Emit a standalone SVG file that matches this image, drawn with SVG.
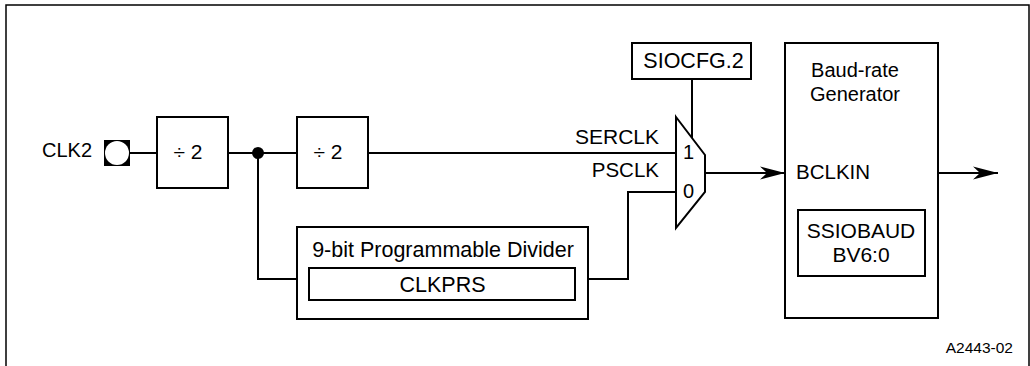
<svg xmlns="http://www.w3.org/2000/svg" width="1030" height="366" viewBox="0 0 1030 366">
<style>
.box{fill:#fff;stroke:#000;stroke-width:2}
.w{fill:none;stroke:#000;stroke-width:2}
text{font-family:"Liberation Sans",Arial,sans-serif;font-size:20px;fill:#000}
.big{font-size:21.5px}
.c{text-anchor:middle}
.r{text-anchor:end}
</style>
<defs>
<marker id="arr" markerUnits="userSpaceOnUse" markerWidth="28" markerHeight="16" refX="27" refY="8" orient="auto">
<path d="M27,8 L2,1.5 L9,8 L2,14.5 Z" fill="#000"/>
</marker>
</defs>
<rect x="6" y="5" width="1023" height="380" fill="#fff" stroke="#000" stroke-width="1.5"/>
<g id="connectors">
<line class="w" x1="130" y1="153" x2="157" y2="153"/>
<line class="w" x1="228" y1="153" x2="297" y2="153"/>
<circle cx="258" cy="153" r="6" fill="#000"/>
<polyline class="w" points="258,153 258,279 297,279"/>
<line class="w" x1="368" y1="153" x2="676" y2="153"/>
<polyline class="w" points="588,279 628,279 628,192 676,192"/>
<line class="w" x1="692" y1="79" x2="692" y2="138"/>
<line class="w" x1="705" y1="173" x2="785" y2="173" marker-end="url(#arr)"/>
<line class="w" x1="938" y1="173" x2="998" y2="173" marker-end="url(#arr)"/>
</g>
<g id="clk2">
<text x="92" y="157" class="r">CLK2</text>
<rect x="104" y="140" width="26" height="26" fill="#000"/>
<circle cx="117" cy="153" r="12" fill="#fff"/>
</g>
<g id="div1">
<rect class="box" x="157" y="117" width="71" height="71"/>
<text x="188" y="159" class="c" style="font-size:21px">÷ 2</text>
</g>
<g id="div2">
<rect class="box" x="297" y="117" width="71" height="71"/>
<text x="328" y="159" class="c" style="font-size:21px">÷ 2</text>
</g>
<g id="prog-divider">
<rect class="box" x="297" y="227" width="291" height="92"/>
<text x="443" y="257" class="c big">9-bit Programmable Divider</text>
<rect class="box" x="309" y="268" width="266" height="32"/>
<text x="442.5" y="292" class="c big">CLKPRS</text>
</g>
<g id="labels">
<text x="659" y="144" class="r" style="font-size:21px">SERCLK</text>
<text x="659" y="177" class="r" style="font-size:20.5px">PSCLK</text>
</g>
<g id="siocfg">
<rect class="box" x="632" y="43" width="119" height="36"/>
<text x="693.5" y="68" class="c big">SIOCFG.2</text>
</g>
<g id="mux">
<polygon class="box" points="676,117 705,155 705,192 676,228"/>
<text x="683" y="159">1</text>
<text x="683" y="198">0</text>
</g>
<g id="baud">
<rect class="box" x="785" y="43" width="153" height="275"/>
<text x="855" y="77" class="c">Baud-rate</text>
<text x="855" y="101" class="c">Generator</text>
<text x="796" y="179" style="font-size:20.5px">BCLKIN</text>
<rect class="box" x="798" y="210" width="127" height="66"/>
<text x="861" y="238" class="c" style="font-size:21px">SSIOBAUD</text>
<text x="861" y="262" class="c" style="font-size:21px">BV6:0</text>
</g>
<text x="1013" y="353" class="r" style="font-size:15.5px">A2443-02</text>
</svg>
